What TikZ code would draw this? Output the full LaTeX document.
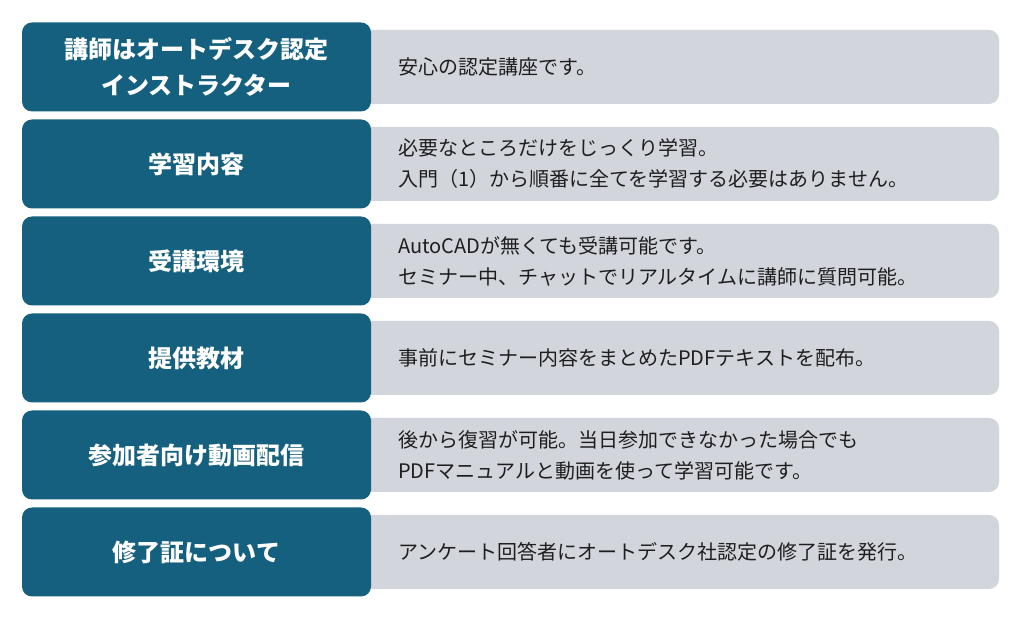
\documentclass[tikz,border=0pt]{standalone}
\usepackage{fontspec}
\setmainfont{Noto Sans CJK JP}
\definecolor{darkblue}{HTML}{16607F}
\definecolor{lightgray}{HTML}{D2D6DC}
\definecolor{txt}{HTML}{1E1E1E}
\tikzset{
  darkbox/.style={fill=darkblue, rounded corners=10pt, minimum width=349pt, minimum height=89pt, inner sep=0pt, text=white, align=center, font=\fontsize{24}{36}\selectfont\bfseries},
  graybox/.style={fill=lightgray, rounded corners=10pt, minimum width=639pt, minimum height=74pt, inner sep=0pt},
  graytext/.style={anchor=west, align=left, inner sep=0pt, text=txt, font=\fontsize{20}{31}\selectfont}
}
\begin{document}
\begin{tikzpicture}[x=1pt,y=1pt]
\useasboundingbox[fill=white] (0,0) rectangle (1030,620);
\node[graybox] (g1) at (679.5,553) {};
\node[graybox] (g2) at (679.5,456) {};
\node[graybox] (g3) at (679.5,359) {};
\node[graybox] (g4) at (679.5,262) {};
\node[graybox] (g5) at (679.5,165) {};
\node[graybox] (g6) at (679.5,68) {};
\node[darkbox] (d1) at (196.5,553) {講師はオートデスク認定\\インストラクター};
\node[darkbox] (d2) at (196.5,456) {学習内容};
\node[darkbox] (d3) at (196.5,359) {受講環境};
\node[darkbox] (d4) at (196.5,262) {提供教材};
\node[darkbox] (d5) at (196.5,165) {参加者向け動画配信};
\node[darkbox] (d6) at (196.5,68) {修了証について};
\node[graytext] (t1) at (398,553) {安心の認定講座です。};
\node[graytext] (t2) at (398,456) {必要なところだけをじっくり学習。\\入門（1）から順番に全てを学習する必要はありません。};
\node[graytext] (t3) at (398,359) {AutoCADが無くても受講可能です。\\セミナー中、チャットでリアルタイムに講師に質問可能。};
\node[graytext] (t4) at (398,262) {事前にセミナー内容をまとめたPDFテキストを配布。};
\node[graytext] (t5) at (398,165) {後から復習が可能。当日参加できなかった場合でも\\PDFマニュアルと動画を使って学習可能です。};
\node[graytext] (t6) at (398,68) {アンケート回答者にオートデスク社認定の修了証を発行。};
\end{tikzpicture}
\end{document}
